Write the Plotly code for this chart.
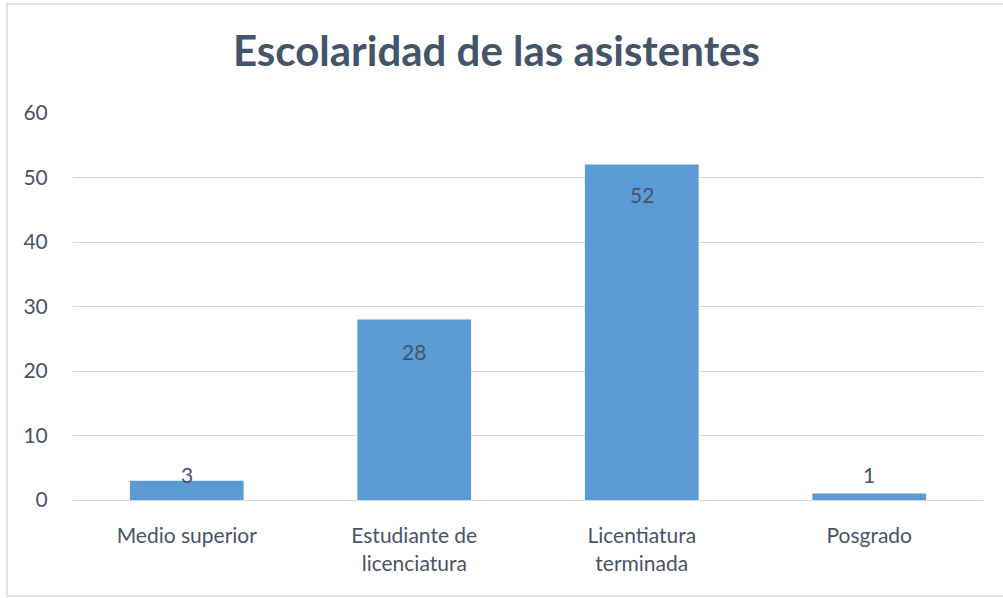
import plotly.graph_objects as go

categories = ["Medio superior", "Estudiante de<br>licenciatura", "Licentiatura<br>terminada", "Posgrado"]
values = [3, 28, 52, 1]
label_shift = [6, -32, -30, 19]

title_text = "Escolaridad de las asistentes"
font_family = "Lato, 'Open Sans', sans-serif"
text_color = "#485468"

fig = go.Figure()
fig.add_trace(go.Bar(
    x=categories, y=values,
    marker=dict(color="#5B9BD5", line=dict(width=0)),
    hoverinfo="skip",
))

for c, v, s in zip(categories, values, label_shift):
    fig.add_annotation(x=c, y=v, text=str(v), showarrow=False, yshift=s,
                       font=dict(family=font_family, size=21, color=text_color))

# outer chart border
fig.add_shape(type="rect", xref="paper", yref="paper",
              x0=(7 - 73) / 910, x1=(1010 - 73) / 910,
              y0=(500 - 596) / 387, y1=(500 - 4) / 387,
              line=dict(color="#D9D9D9", width=1.5), fillcolor="rgba(0,0,0,0)", layer="below")

fig.update_layout(
    width=1003, height=598,
    margin=dict(l=73, r=20, t=113, b=98),
    paper_bgcolor="white", plot_bgcolor="white",
    bargap=0.5,
    showlegend=False,
    title=dict(text="<b>" + title_text + "</b>", x=0.495, xanchor="center",
               y=1 - 51 / 598, yanchor="middle", xref="container", yref="container",
               font=dict(family=font_family, size=42, color="#44546A")),
    font=dict(family=font_family, color=text_color),
)
fig.update_xaxes(
    showgrid=False, showline=True, linecolor="#D9D9D9", linewidth=1,
    ticks="outside", ticklen=17, tickcolor="rgba(0,0,0,0)",
    tickfont=dict(size=21, color=text_color, family=font_family),
)
fig.update_yaxes(
    range=[0, 60], dtick=10, showgrid=True, gridcolor="#D9D9D9", gridwidth=1,
    zeroline=False, showline=False,
    ticks="outside", ticklen=20, tickcolor="rgba(0,0,0,0)",
    tickfont=dict(size=21, color=text_color, family=font_family),
)

fig.write_html("out.html", config={"displayModeBar": False},
               post_script="document.body.style.margin='0';")
